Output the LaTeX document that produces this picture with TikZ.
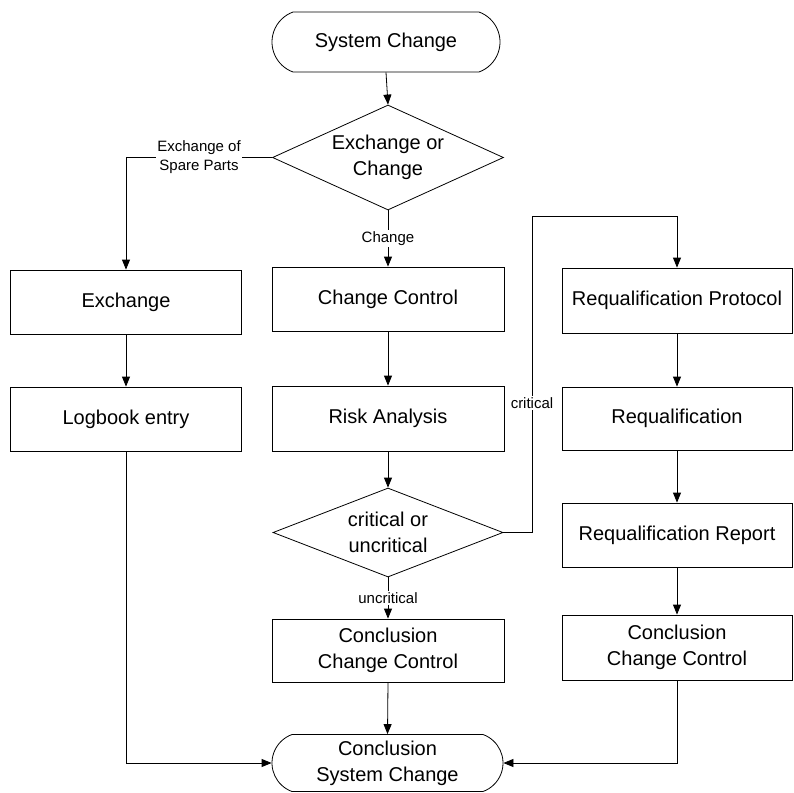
\documentclass[tikz,border=0pt]{standalone}
\usepackage{fontspec}
\setmainfont{Liberation Sans}
\usetikzlibrary{shapes.geometric,shapes.misc,arrows.meta}
\begin{document}
\begin{tikzpicture}[x=1pt,y=-1pt,
  line width=0.8pt,
  every node/.style={font=\fontsize{20}{26}\selectfont, align=center},
  procbox/.style={draw, rectangle, inner sep=0pt, minimum width=231pt, minimum height=64pt},
  decbox/.style={draw, diamond, inner sep=0pt, aspect=2.2},
  termbox/.style={draw, rounded rectangle, rounded rectangle arc length=140, inner sep=0pt},
  lbl/.style={fill=white, inner sep=1.5pt, font=\fontsize{15}{19}\selectfont},
  arr/.style={-{Triangle[length=10pt,width=8pt]}}]
\useasboundingbox (0,0) rectangle (793,793);
% nodes
\node[termbox, minimum width=228pt, minimum height=60pt] (start) at (386,42) {System Change};
\node[decbox, minimum width=231pt, minimum height=105pt] (d1) at (388,157.5) {Exchange or\\Change};
\node[procbox] (exch) at (126,302) {Exchange};
\node[procbox] (log) at (126,419) {Logbook entry};
\node[procbox, minimum width=232pt] (cc) at (388,299) {Change Control};
\node[procbox, minimum width=232pt, minimum height=65pt] (ra) at (388,418.5) {Risk Analysis};
\node[decbox, minimum width=230pt, minimum height=89pt] (d2) at (388,532.5) {critical or\\uncritical};
\node[procbox, minimum width=232pt, minimum height=63pt] (ccc) at (388,650.5) {Conclusion\\Change Control};
\node[procbox, minimum width=230pt, minimum height=65pt] (rp) at (677,300.5) {Requalification Protocol};
\node[procbox, minimum width=230pt, minimum height=63pt] (rq) at (677,418.5) {Requalification};
\node[procbox, minimum width=230pt] (rr) at (677,535) {Requalification Report};
\node[procbox, minimum width=230pt, minimum height=65pt] (rc) at (677,647.5) {Conclusion\\Change Control};
\node[termbox, minimum width=231pt, minimum height=57pt] (end) at (387.5,763) {Conclusion\\System Change};
\coordinate (k2) at (532,216);
% connectors
\draw[arr] (start.south) -- (d1.north);
\draw[arr] (d1.west) -| node[lbl, pos=0.25] {Exchange of\\Spare Parts} (exch.north);
\draw[arr] (exch.south) -- (log.north);
\draw[arr] (log.south) |- (end.west);
\draw[arr] (d1.south) -- node[lbl] {Change} (cc.north);
\draw[arr] (cc.south) -- (ra.north);
\draw[arr] (ra.south) -- (d2.north);
\draw[arr] (d2.south) -- node[lbl] {uncritical} (ccc.north);
\draw[arr] (ccc.south) -- (end.north);
\draw[arr] (d2.east) -- (d2.east -| k2) -- node[lbl, pos=0.41] {critical} (k2) -| (rp.north);
\draw[arr] (rp.south) -- (rq.north);
\draw[arr] (rq.south) -- (rr.north);
\draw[arr] (rr.south) -- (rc.north);
\draw[arr] (rc.south) |- (end.east);
\end{tikzpicture}
\end{document}
